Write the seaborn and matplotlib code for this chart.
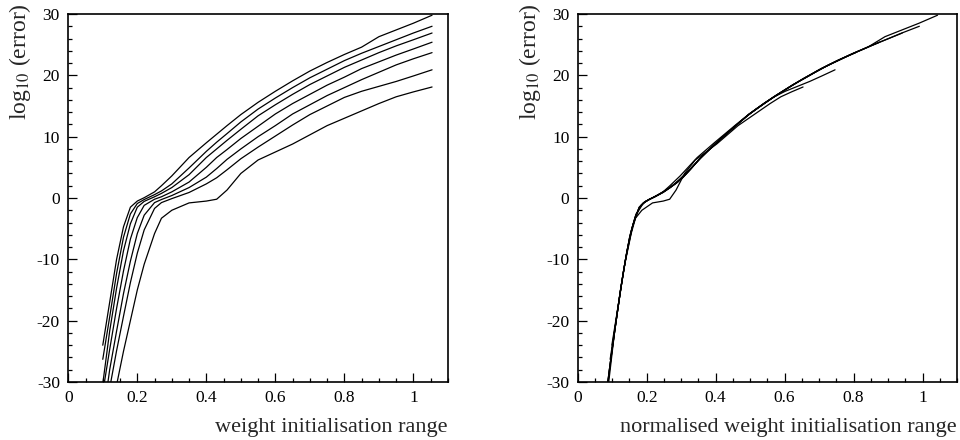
import numpy as np
import pandas as pd
import matplotlib
matplotlib.use("Agg")
import matplotlib.pyplot as plt
from matplotlib.ticker import MultipleLocator
import seaborn as sns

# --- data ---
x_range = [0.10, 0.12, 0.14, 0.16, 0.18, 0.20, 0.22, 0.25, 0.27, 0.30, 0.35, 0.40, 0.43,
           0.46, 0.50, 0.55, 0.60, 0.65, 0.70, 0.75, 0.80, 0.85, 0.90, 0.95, 1.00, 1.054]

err_1 = [-24.0, -17.0, -10.0, -4.7, -1.5, -0.5, 0.05, 1.0, 2.0, 3.6, 6.6, 9.0, 10.4,
         11.8, 13.6, 15.6, 17.4, 19.1, 20.7, 22.1, 23.4, 24.6, 26.3, 27.4, 28.5, 29.8]
err_2 = [-26.3, -19.4, -12.3, -6.4, -2.6, -0.9, -0.25, 0.55, 1.15, 2.3, 4.9, 7.6, 9.1,
         10.5, 12.4, 14.5, 16.3, 18.0, 19.6, 21.0, 22.4, 23.6, 24.7, 25.8, 26.9, 28.0]
err_3 = [-30.3, -21.7, -14.7, -8.6, -4.2, -1.5, -0.55, 0.2, 0.75, 1.7, 3.8, 6.6, 8.0,
         9.4, 11.2, 13.4, 15.2, 16.9, 18.5, 19.9, 21.3, 22.5, 23.7, 24.8, 25.8, 26.9]
err_4 = [-31.7, -24.7, -18.0, -11.9, -6.7, -3.2, -1.2, -0.2, 0.2, 1.0, 2.6, 5.0, 6.6,
         7.9, 9.7, 11.7, 13.7, 15.4, 16.9, 18.4, 19.7, 21.1, 22.2, 23.3, 24.3, 25.4]
err_5 = [-36.0, -28.0, -21.7, -15.6, -10.3, -5.8, -2.8, -0.75, -0.25, 0.4, 1.7, 3.4, 4.8,
         6.3, 8.0, 10.0, 11.8, 13.7, 15.2, 16.7, 18.0, 19.3, 20.5, 21.7, 22.7, 23.7]
err_6 = [-40.0, -31.0, -24.9, -19.3, -13.8, -9.0, -5.2, -1.7, -0.75, -0.1, 0.9, 2.3, 3.3,
         4.6, 6.4, 8.3, 10.1, 11.9, 13.6, 15.0, 16.4, 17.4, 18.2, 19.0, 19.9, 20.9]
err_7 = [-45.0, -38.0, -30.5, -25.0, -20.0, -15.0, -10.8, -5.8, -3.3, -2.0, -0.8, -0.5, -0.2,
         1.3, 4.0, 6.2, 7.5, 8.8, 10.3, 11.8, 13.0, 14.2, 15.4, 16.5, 17.3, 18.1]

# per-run factor that turns the raw range into the normalised range
norm_factor = [0.99, 0.94, 0.893, 0.83, 0.765, 0.708, 0.62]

x_ticks = [0, 0.2, 0.4, 0.6, 0.8, 1]
x_tick_labels = ["0", "0.2", "0.4", "0.6", "0.8", "1"]
y_ticks = [-30, -20, -10, 0, 10, 20, 30]

runs = [err_1, err_2, err_3, err_4, err_5, err_6, err_7]
frames = []
for i, errs in enumerate(runs):
    frames.append(pd.DataFrame({"run": i, "range": x_range, "log_err": errs}))
df = pd.concat(frames, ignore_index=True)
df["norm_range"] = df["range"] * df["run"].map(dict(enumerate(norm_factor)))

# --- style ---
sns.set_theme(style="ticks")
plt.rcParams["font.family"] = ["Liberation Serif", "DejaVu Serif"]
plt.rcParams["mathtext.fontset"] = "stix"
plt.rcParams["axes.unicode_minus"] = False
plt.rcParams["axes.linewidth"] = 1.2
plt.rcParams["axes.edgecolor"] = "black"

fig = plt.figure(figsize=(9.6, 4.4), dpi=100)
ax1 = fig.add_axes([0.0711, 0.1318, 0.3955, 0.8364])
ax2 = fig.add_axes([0.6018, 0.1318, 0.3951, 0.8364])

panels = [(ax1, "range", "weight initialisation range"),
          (ax2, "norm_range", "normalised weight initialisation range")]

for ax, xcol, xlabel in panels:
    sns.lineplot(data=df, x=xcol, y="log_err", units="run", estimator=None,
                 color="black", linewidth=0.9, sort=False, ax=ax, legend=False)
    ax.set_xlim(0, 1.1)
    ax.set_ylim(-30, 30)
    ax.set_xticks(x_ticks)
    ax.set_xticklabels(x_tick_labels)
    ax.set_yticks(y_ticks)
    ax.xaxis.set_minor_locator(MultipleLocator(0.05))
    ax.yaxis.set_minor_locator(MultipleLocator(2))
    ax.tick_params(which="both", direction="in", top=False, right=False,
                   width=0.9, colors="black", labelsize=12.5)
    ax.tick_params(which="major", length=6.5, pad=6)
    ax.tick_params(which="minor", length=3)
    ax.set_xlabel(xlabel, fontsize=16, ha="right", va="baseline")
    ax.xaxis.set_label_coords(1.0, -0.136)
    ax.set_ylabel("log$_{10}$ (error)", fontsize=17, ha="right")
    ax.yaxis.set_label_coords(-0.092, 1.03)
    for s in ax.spines.values():
        s.set_visible(True)
        s.set_color("black")

fig.savefig("out.png", dpi=100)
